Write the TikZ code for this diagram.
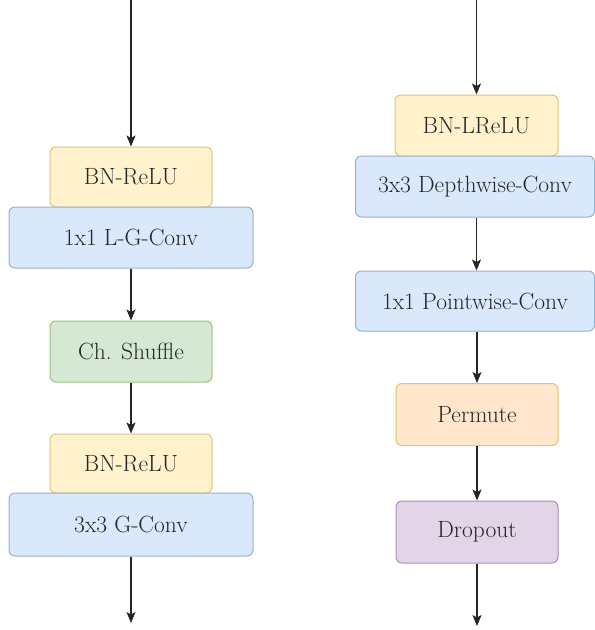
\documentclass[tikz,border=0pt]{standalone}
\usetikzlibrary{arrows.meta}
\definecolor{ylwF}{HTML}{FFF2CC}\definecolor{ylwD}{HTML}{D6B656}
\definecolor{bluF}{HTML}{DAE8FC}\definecolor{bluD}{HTML}{6C8EBF}
\definecolor{grnF}{HTML}{D5E8D4}\definecolor{grnD}{HTML}{82B366}
\definecolor{orgF}{HTML}{FFE6CC}\definecolor{orgD}{HTML}{D79B00}
\definecolor{purF}{HTML}{E1D5E7}\definecolor{purD}{HTML}{9673A6}
\definecolor{txt}{HTML}{262626}
\tikzset{
  blk/.style={rounded corners=6pt, line width=1pt, inner sep=0pt, text=txt,
    font=\rmfamily\fontsize{23.5}{28}\selectfont},
  yel/.style={blk, fill=ylwF, draw=ylwD!80},
  blu/.style={blk, fill=bluF, draw=bluD!70},
  grn/.style={blk, fill=grnF, draw=grnD!80},
  org/.style={blk, fill=orgF, draw=orgD!60},
  pur/.style={blk, fill=purF, draw=purD!80},
  narrow/.style={minimum width=162pt, minimum height=60pt},
  wide/.style={minimum width=244pt, minimum height=61pt},
  flow/.style={draw=black!85, line width=1.2pt, -{Stealth[length=11pt,width=9pt,inset=2.5pt]}}
}
\begin{document}
\begin{tikzpicture}[x=1pt,y=-1pt]
\useasboundingbox[fill=white] (0,0) rectangle (595,630);
% left column
\node[yel, narrow] (bn1) at (131,177) {BN-ReLU};
\node[blu, wide] (lg) at (131,237.5) {1x1 L-G-Conv};
\node[grn, narrow, minimum height=61pt] (cs) at (131,351.5) {Ch. Shuffle};
\node[yel, narrow, minimum height=59pt] (bn2) at (131,463.5) {BN-ReLU};
\node[blu, wide, minimum height=63pt] (gc) at (131,524.5) {3x3 G-Conv};
\coordinate (lin) at (131,0);
\coordinate (lout) at (131,623);
\draw[flow] (lin) -- (bn1.north);
\draw[flow] (lg.south) -- (cs.north);
\draw[flow] (cs.south) -- (bn2.north);
\draw[flow] (gc.south) -- (lout);
% right column
\node[yel, narrow, minimum width=163pt, minimum height=61pt] (bnl) at (476.5,125.5) {BN-LReLU};
\node[blu, minimum width=239pt, minimum height=61pt] (dw) at (475,186.5) {3x3 Depthwise-Conv};
\node[blu, minimum width=239pt, minimum height=60pt] (pw) at (475,301) {1x1 Pointwise-Conv};
\node[org, narrow, minimum height=62pt] (pm) at (477,414.5) {Permute};
\node[pur, narrow, minimum height=62pt] (dp) at (477,532) {Dropout};
\coordinate (rin) at (476.5,0);
\coordinate (rout) at (477,626);
\draw[flow] (rin) -- (bnl.north);
\draw[flow] (dw.south -| bnl.south) -- (pw.north -| bnl.south);
\draw[flow] (pw.south -| pm.north) -- (pm.north);
\draw[flow] (pm.south) -- (dp.north);
\draw[flow] (dp.south) -- (rout);
\end{tikzpicture}
\end{document}
